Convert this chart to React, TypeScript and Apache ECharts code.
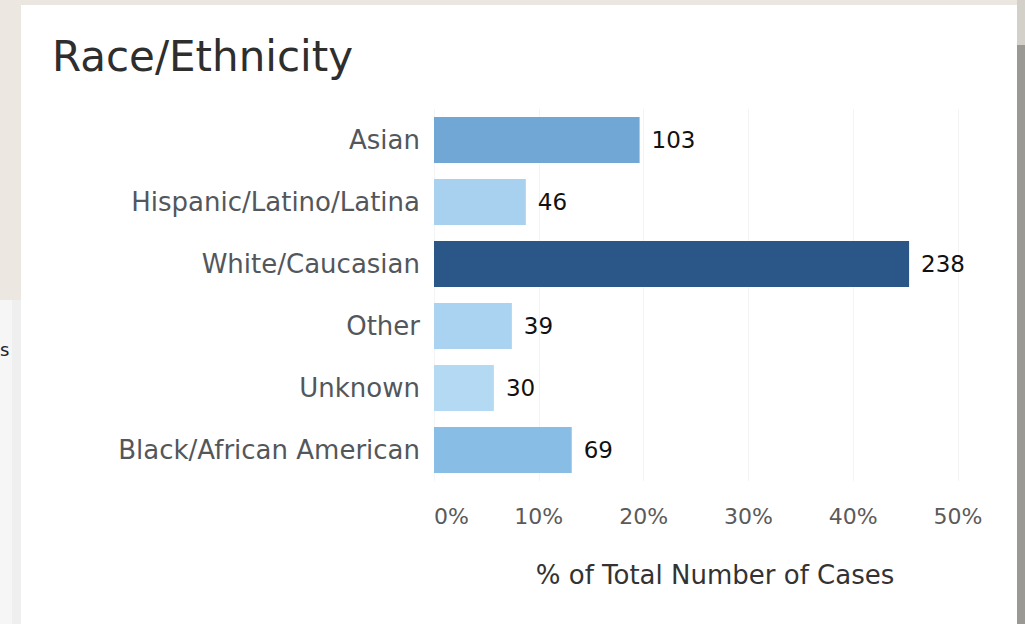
import React, { useEffect, useRef } from "react";
import * as echarts from "echarts";

const categories = [
  "Asian",
  "Hispanic/Latino/Latina",
  "White/Caucasian",
  "Other",
  "Unknown",
  "Black/African American",
];
const counts = [103, 46, 238, 39, 30, 69];
const barColors = ["#70a7d5", "#a7d1ef", "#2a5788", "#a9d3f0", "#b3daf2", "#88bde6"];
const tickValues = [0, 10, 20, 30, 40, 50];

const FONT = "DejaVu Sans";

export default function App() {
  const ref = useRef<HTMLDivElement>(null);

  useEffect(() => {
    if (!ref.current) return;
    const chart = echarts.init(ref.current, undefined, { renderer: "svg" });
    const total = counts.reduce((a, b) => a + b, 0);
    const pct = counts.map((c) => (c / total) * 100);

    chart.setOption({
      animation: false,
      backgroundColor: "#ffffff",
      graphic: [
        { type: "rect", z: -10, shape: { x: 0, y: 0, width: 1025, height: 5 }, style: { fill: "#ebe7e0" } },
        { type: "rect", z: -10, shape: { x: 0, y: 0, width: 21, height: 300 }, style: { fill: "#ece8e1" } },
        { type: "rect", z: -10, shape: { x: 0, y: 300, width: 21, height: 324 }, style: { fill: "#f6f6f6" } },
        { type: "rect", z: -10, shape: { x: 12, y: 300, width: 9, height: 324 }, style: { fill: "#efefef" } },
        { type: "rect", z: -10, shape: { x: 1017, y: 0, width: 8, height: 45 }, style: { fill: "#d3d0ca" } },
        { type: "rect", z: -10, shape: { x: 1017, y: 45, width: 8, height: 579 }, style: { fill: "#9a9993" } },
        {
          type: "text",
          x: 0,
          y: 349,
          style: { text: "s", font: `18px '${FONT}'`, fill: "#222", textVerticalAlign: "middle" },
        },
        {
          type: "text",
          x: 52,
          y: 56,
          style: {
            text: "Race/Ethnicity",
            font: `42px '${FONT}'`,
            fill: "#2e2e2e",
            textVerticalAlign: "middle",
          },
        },
      ],
      grid: { left: 434, right: 67, top: 109, bottom: 143, containLabel: false },
      xAxis: {
        type: "value",
        min: tickValues[0],
        max: tickValues[tickValues.length - 1],
        interval: 10,
        axisLine: { show: false },
        axisTick: { show: false },
        splitLine: { show: true, lineStyle: { color: "#f4f4f4", width: 1 } },
        axisLabel: {
          formatter: "{value}%",
          fontFamily: FONT,
          fontSize: 22,
          color: "#5a5a5a",
          margin: 24,
          alignMinLabel: "left",
        },
        name: "% of Total Number of Cases",
        nameLocation: "middle",
        nameGap: 81,
        nameTextStyle: {
          fontFamily: FONT,
          fontSize: 26,
          color: "#333",
          padding: [0, 0, 0, 38],
        },
      },
      yAxis: {
        type: "category",
        inverse: true,
        data: categories,
        axisLine: { show: false },
        axisTick: { show: false },
        axisLabel: { fontFamily: FONT, fontSize: 26, color: "#53575c", margin: 14 },
      },
      series: [
        {
          type: "bar",
          barCategoryGap: "26%",
          data: pct.map((v, i) => ({ value: v, itemStyle: { color: barColors[i] } })),
          label: {
            show: true,
            position: "right",
            distance: 12,
            formatter: (p: any) => String(counts[p.dataIndex]),
            fontFamily: FONT,
            fontSize: 23,
            color: "#111",
          },
        },
      ],
    });
    return () => chart.dispose();
  }, []);

  return (
    <div
      ref={ref}
      style={{ position: "absolute", left: 0, top: 0, width: 1025, height: 624 }}
    />
  );
}
